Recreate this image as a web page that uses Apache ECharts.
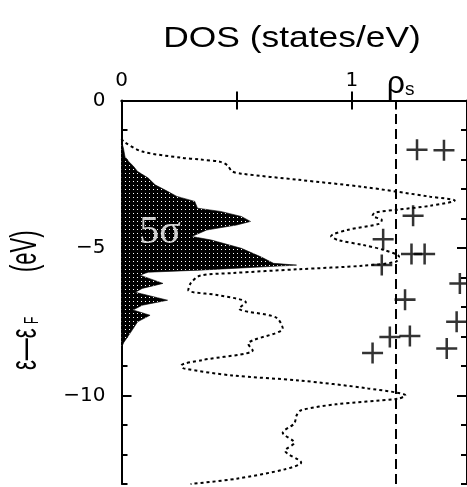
<!DOCTYPE html>
<html><head><meta charset="utf-8">
<script src="https://cdn.jsdelivr.net/npm/echarts@6/dist/echarts.min.js"></script>
<style>html,body{margin:0;padding:0;background:#fff}#c{width:467px;height:487px}</style>
</head><body><div id="c"></div>
<script>
// ---- data ----
const topTickValues = [0.5, 1];
const topLabelValues = [0, 1];
const rhoS = 1.19;
const yLabelValues = [0, -5, -10];
const yMajorTicks = [-5, -10];

// total DOS (dotted curve): [DOS, energy]
const dosCurve = [
  [0.0, -1.3], [0.01, -1.4], [0.09, -1.73], [0.26, -1.94], [0.34, -2.0], [0.43, -2.08],
  [0.46, -2.2], [0.48, -2.4], [0.52, -2.48], [0.77, -2.69], [1.05, -2.93], [1.34, -3.26],
  [1.447, -3.39], [1.34, -3.57], [1.2, -3.7], [1.1, -3.8], [1.09, -3.91], [1.13, -4.05],
  [1.12, -4.18], [0.98, -4.39], [0.91, -4.6], [0.94, -4.73], [1.05, -4.9], [1.14, -5.07],
  [1.205, -5.3], [1.19, -5.47], [1.05, -5.6], [0.77, -5.72], [0.48, -5.85], [0.34, -5.94],
  [0.3, -6.2], [0.29, -6.43], [0.42, -6.6], [0.54, -6.84], [0.51, -7.05], [0.67, -7.35],
  [0.7, -7.72], [0.57, -8.13], [0.55, -8.24], [0.57, -8.47], [0.35, -8.8], [0.26, -8.98],
  [0.27, -9.08], [0.48, -9.32], [0.77, -9.49], [1.07, -9.76], [1.233, -10.0], [1.2, -10.11],
  [0.93, -10.3], [0.78, -10.5], [0.76, -10.68], [0.75, -10.95], [0.7, -11.26], [0.75, -11.6],
  [0.71, -11.87], [0.78, -12.27], [0.71, -12.5], [0.5, -12.82], [0.3, -13.0]
];

// 5-sigma projected DOS (filled): [DOS, energy]
const sigma5 = [
  [0, -1.4], [0.008, -1.6], [0.015, -1.9], [0.03, -2.06], [0.052, -2.23], [0.069, -2.4],
  [0.116, -2.63], [0.146, -2.86], [0.2, -3.08], [0.24, -3.25], [0.318, -3.42], [0.33, -3.65],
  [0.43, -3.76], [0.52, -3.93], [0.56, -4.1], [0.5, -4.22], [0.37, -4.39], [0.305, -4.61],
  [0.39, -4.73], [0.52, -5.01], [0.605, -5.3], [0.66, -5.52], [0.76, -5.58], [0.34, -5.75],
  [0.116, -5.82], [0.08, -5.92], [0.18, -6.2], [0.09, -6.37], [0.06, -6.5], [0.2, -6.77],
  [0.09, -6.94], [0.05, -7.1], [0.124, -7.28], [0.07, -7.5], [0.04, -7.86], [0.01, -8.2],
  [0, -8.37]
];
const sigmaLabel = [[0.167, -4.49]];

// crosses
const plusV = [1.283, 1.40, 1.266, 1.136, 1.259, 1.316, 1.13, 1.469, 1.231, 1.455, 1.165, 1.252, 1.412, 1.09];
const plusE = [-1.67, -1.69, -3.91, -4.70, -5.20, -5.20, -5.58, -6.2, -6.75, -7.5, -8.02, -7.98, -8.41, -8.56];

// ---- chart ----
const FONT = 'Liberation Sans, Arial, Helvetica, sans-serif';
const TICKFONT = 'DejaVu Sans, Liberation Sans, sans-serif';
const pat = document.createElement('canvas');
pat.width = 4; pat.height = 4;
const g = pat.getContext('2d');
g.fillStyle = '#000'; g.fillRect(0, 0, 4, 4);
g.fillStyle = '#fff'; g.fillRect(1, 1, 1, 1);

const axisLine = {show: true, lineStyle: {color: '#000', width: 2}};
const minus = v => (v < 0 ? '\u2212' + Math.abs(v) : String(v));
const YS = 1.7; // glyph-height stretch of rotated axis title

const chart = echarts.init(document.getElementById('c'), null, {renderer: 'canvas'});
chart.setOption({
  animation: false,
  backgroundColor: '#fff',
  grid: {left: 121.5, top: 100.5, right: -4.3, bottom: 3, containLabel: false},
  xAxis: [
    {
      type: 'value', position: 'top', min: 0, max: 1.5,
      axisLine: axisLine,
      axisTick: {show: true, inside: true, length: 9, lineStyle: {color: '#000', width: 2},
        customValues: topTickValues.concat([rhoS])},
      axisLabel: {customValues: topLabelValues, fontSize: 20, color: '#000', margin: 10, fontFamily: TICKFONT},
      splitLine: {show: false}
    },
    {
      type: 'value', position: 'bottom', min: 0, max: 1.5,
      axisLine: axisLine,
      axisTick: {show: true, inside: true, length: 9, lineStyle: {color: '#000', width: 2},
        customValues: topTickValues},
      axisLabel: {show: false}, splitLine: {show: false}
    }
  ],
  yAxis: [
    {
      type: 'value', position: 'left', min: -13, max: 0, interval: 1,
      axisLine: axisLine,
      axisTick: {show: true, inside: true, length: 6, lineStyle: {color: '#000', width: 2}},
      axisLabel: {customValues: yLabelValues, formatter: minus, fontSize: 20, color: '#000', margin: 16, fontFamily: TICKFONT},
      splitLine: {show: false}
    },
    {
      type: 'value', position: 'left', min: -13, max: 0,
      axisLine: {show: false},
      axisTick: {show: true, inside: true, length: 10, lineStyle: {color: '#000', width: 2}, customValues: yMajorTicks},
      axisLabel: {show: false}, splitLine: {show: false}
    },
    {
      type: 'value', position: 'right', min: -13, max: 0, interval: 1,
      axisLine: axisLine,
      axisTick: {show: true, inside: true, length: 6, lineStyle: {color: '#000', width: 2}},
      axisLabel: {show: false}, splitLine: {show: false}
    },
    {
      type: 'value', position: 'right', min: -13, max: 0,
      axisLine: {show: false},
      axisTick: {show: true, inside: true, length: 10, lineStyle: {color: '#000', width: 2}, customValues: yMajorTicks},
      axisLabel: {show: false}, splitLine: {show: false}
    }
  ],
  graphic: [
    {
      type: 'text', x: 292, y: 39, scaleX: 1.22,
      style: {text: 'DOS (states/eV)', fontSize: 29, fontFamily: FONT, fill: '#000', align: 'center', verticalAlign: 'middle'}
    },
    {
      type: 'group', x: 25.5, y: 370, rotation: Math.PI / 2, scaleY: YS,
      children: [
        {type: 'text', x: 0, y: 0, style: {text: '\u03b5\u2014\u03b5', fontSize: 22, fontFamily: FONT, fill: '#000', align: 'left', verticalAlign: 'middle'}},
        {type: 'text', x: 46, y: 4.3, style: {text: 'F', fontSize: 12, fontFamily: FONT, fill: '#000', align: 'left', verticalAlign: 'middle'}},
        {type: 'text', x: 98, y: 0, style: {text: '(eV)', fontSize: 22, fontFamily: FONT, fill: '#000', align: 'left', verticalAlign: 'middle'}}
      ]
    }
  ],
  series: [
    {
      type: 'custom', xAxisIndex: 0, yAxisIndex: 0, silent: true, z: 1,
      data: [[0, 0]],
      renderItem: function (params, api) {
        const pts = sigma5.map(p => api.coord(p));
        return {
          type: 'polygon', shape: {points: pts},
          style: {fill: {image: pat, repeat: 'repeat'}, stroke: '#000', lineWidth: 0.6}
        };
      }
    },
    {
      type: 'line', xAxisIndex: 0, yAxisIndex: 0, data: dosCurve, symbol: 'none', smooth: 0.3,
      z: 2, silent: true,
      lineStyle: {color: '#000', width: 2, type: [3, 3]},
      markLine: {
        silent: true, symbol: ['none', 'none'],
        lineStyle: {color: '#000', width: 2, type: [10, 5]},
        data: [{xAxis: rhoS}],
        label: {
          show: true, position: 'end', distance: 0,
          formatter: '{r|\u03c1}{s|s}',
          rich: {
            r: {fontSize: 32, color: '#000', fontFamily: FONT, padding: [0, 0, 0, 10]},
            s: {fontSize: 19, color: '#000', fontFamily: FONT, padding: [10, 0, 0, 0]}
          }
        }
      }
    },
    {
      type: 'scatter', xAxisIndex: 0, yAxisIndex: 0, z: 3, silent: true,
      data: plusV.map((v, i) => [v, plusE[i]]),
      symbol: 'path://M8.8,0h2.4v8.8h8.8v2.4h-8.8v8.8h-2.4v-8.8h-8.8v-2.4h8.8z', symbolSize: 21,
      itemStyle: {color: '#000'}
    },
    {
      type: 'scatter', xAxisIndex: 0, yAxisIndex: 0, z: 4, silent: true,
      data: sigmaLabel, symbolSize: 0,
      label: {show: true, position: 'inside', formatter: '5\u03c3', color: '#fff',
        fontSize: 40, fontFamily: 'Liberation Serif, DejaVu Serif, serif'}
    }
  ]
});
</script></body></html>
